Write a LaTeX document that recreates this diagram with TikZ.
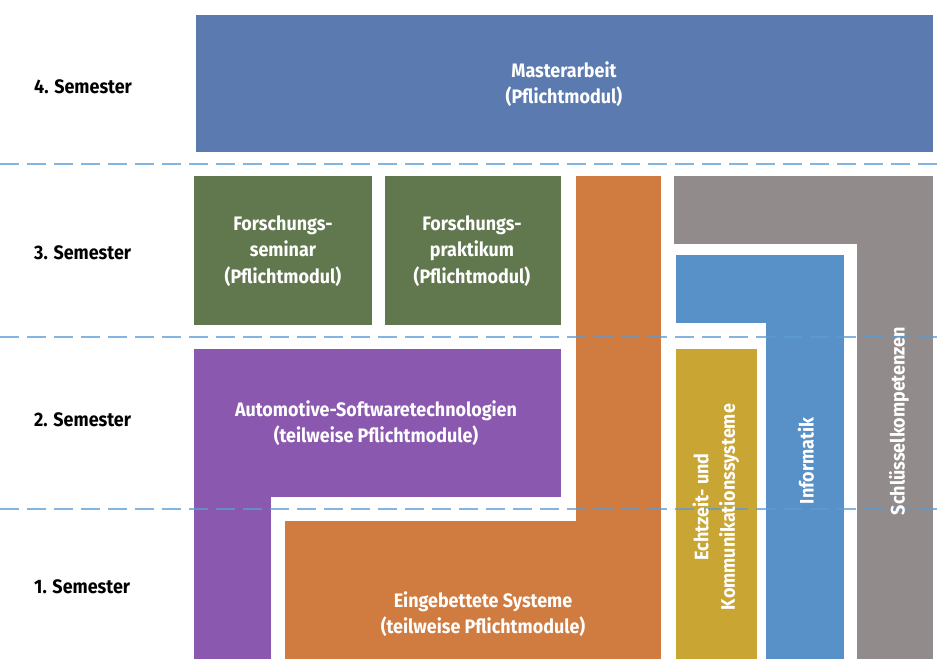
\documentclass[tikz,border=0pt]{standalone}
\usepackage{fontspec}
\setmainfont{Fira Sans}[FakeStretch=0.92]
\definecolor{cMaster}{HTML}{5B7AB0}
\definecolor{cGreen}{HTML}{61784F}
\definecolor{cOrange}{HTML}{D07B40}
\definecolor{cPurple}{HTML}{8B58B0}
\definecolor{cGrey}{HTML}{918C8B}
\definecolor{cBlue}{HTML}{5891C7}
\definecolor{cYellow}{HTML}{C9A533}
\definecolor{cDash}{HTML}{5B9BD5}
\begin{document}
\begin{tikzpicture}[x=1pt,y=-1pt,
  block/.style={draw=white,line width=0.6pt},
  lbl/.style={text=white,font=\bfseries\fontsize{19.5}{26.5}\selectfont,align=center,inner sep=0pt},
  sem/.style={text=black,font=\bfseries\fontsize{19.5}{26.5}\selectfont,anchor=west,inner sep=0pt},
  semline/.style={cDash,line width=2pt,dash pattern=on 19pt off 8pt,opacity=0.75}]
\useasboundingbox (0,0) rectangle (943,659);
% module blocks
\fill[cMaster,block] (195,14) rectangle (933,152);
\fill[cGreen,block] (193,175) rectangle (372,325);
\fill[cGreen,block] (384,175) rectangle (561,325);
\fill[cPurple,block] (193,348) -- (561,348) -- (561,497) -- (271,497) -- (271,659) -- (193,659) -- cycle;
\fill[cOrange,block] (575,175) -- (661,175) -- (661,659) -- (284,659) -- (284,520) -- (575,520) -- cycle;
\fill[cGrey,block] (673,175) -- (933,175) -- (933,659) -- (856,659) -- (856,244) -- (673,244) -- cycle;
\fill[cBlue,block] (675,254) -- (844,254) -- (844,659) -- (765,659) -- (765,323) -- (675,323) -- cycle;
\fill[cYellow,block] (675,348) rectangle (757,659);
% semester boundaries
\draw[semline] (0,164) -- (943,164);
\draw[semline] (0,337) -- (943,337);
\draw[semline] (0,509) -- (943,509);
% semester labels
\node[sem] (s4) at (34,87) {4. Semester};
\node[sem] (s3) at (34,253) {3. Semester};
\node[sem] (s2) at (34,420) {2. Semester};
\node[sem] (s1) at (34,587) {1. Semester};
% block labels
\node[lbl] (master) at (564,84) {Masterarbeit\\(Pflichtmodul)};
\node[lbl] (fsem) at (283,251) {Forschungs-\\seminar\\(Pflichtmodul)};
\node[lbl] (fprak) at (472,251) {Forschungs-\\praktikum\\(Pflichtmodul)};
\node[lbl] (auto) at (376,423) {Automotive-Softwaretechnologien\\(teilweise Pflichtmodule)};
\node[lbl] (einge) at (483,614) {Eingebettete Systeme\\(teilweise Pflichtmodule)};
\node[lbl,rotate=90] (echt) at (716,507) {Echtzeit- und\\Kommunikationssysteme};
\node[lbl,rotate=90] (info) at (806,461) {Informatik};
\node[lbl,rotate=90] (schl) at (899,421) {Schlüsselkompetenzen};
\end{tikzpicture}
\end{document}
